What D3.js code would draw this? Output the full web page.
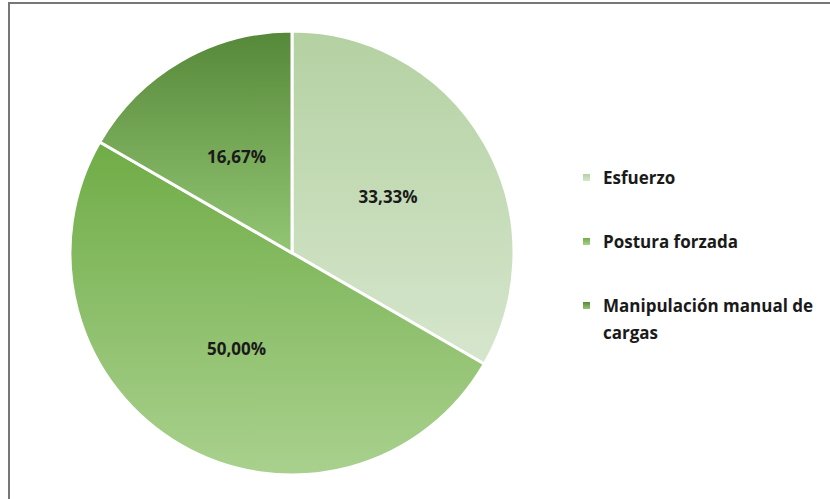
<!DOCTYPE html>
<html>
<head>
<meta charset="utf-8">
<script src="https://cdn.jsdelivr.net/npm/d3@7.9.0/dist/d3.min.js"></script>
<style>
  body { margin: 0; background: #fff; }
  svg { display: block; }
  text { font-family: "Open Sans", Lato, sans-serif; font-weight: bold; fill: #1a1a1a; }
</style>
</head>
<body>
<div id="chart"></div>
<script>
const categories = ['Esfuerzo', 'Postura forzada', 'Manipulación manual de cargas'];
const values = [33.33, 50.00, 16.67];
const labels = ['33,33%', '50,00%', '16,67%'];
// gradient stops per slice: top colour, bottom colour
const topColors = ['#b4d1a2', '#6fac46', '#568839'];
const bottomColors = ['#d6e6cd', '#a9d18e', '#93c674'];

const width = 830, height = 499;
const cx = 292, cy = 253, radius = 222;

const svg = d3.select('#chart').append('svg')
  .attr('width', width)
  .attr('height', height);

// frame
svg.append('path')
  .attr('d', `M9,${height} V3 H${width}`)
  .attr('fill', 'none')
  .attr('stroke', '#777')
  .attr('stroke-width', 2);

const defs = svg.append('defs');
categories.forEach((c, i) => {
  const g = defs.append('linearGradient')
    .attr('id', 'grad' + i)
    .attr('x1', 0).attr('y1', 0).attr('x2', 0).attr('y2', 1);
  g.append('stop').attr('offset', '0%').attr('stop-color', topColors[i]);
  g.append('stop').attr('offset', '100%').attr('stop-color', bottomColors[i]);
});

const pie = d3.pie().sort(null).value(d => d.value);
const data = categories.map((c, i) => ({ name: c, value: values[i], label: labels[i], i }));
const arcs = pie(data);

const arc = d3.arc().innerRadius(0).outerRadius(radius);
const labelArc = d3.arc().innerRadius(radius * 0.5).outerRadius(radius * 0.5);

const g = svg.append('g').attr('transform', `translate(${cx},${cy})`);

g.selectAll('path.slice')
  .data(arcs)
  .join('path')
  .attr('class', 'slice')
  .attr('d', arc)
  .attr('fill', d => `url(#grad${d.data.i})`)
  .attr('stroke', '#fff')
  .attr('stroke-width', 3)
  .attr('stroke-linejoin', 'round');

g.selectAll('text.lbl')
  .data(arcs)
  .join('text')
  .attr('class', 'lbl')
  .attr('transform', d => `translate(${labelArc.centroid(d)})`)
  .attr('text-anchor', 'middle')
  .attr('dy', '0.35em')
  .style('font-size', '17px')
  .text(d => d.data.label);

// legend
const legendY = d3.scalePoint().domain(categories).range([174, 302]);
const legend = svg.append('g');
const items = legend.selectAll('g')
  .data(data)
  .join('g')
  .attr('transform', d => `translate(583,${legendY(d.name)})`);

items.append('rect')
  .attr('width', 7).attr('height', 7)
  .attr('fill', d => `url(#grad${d.i})`);

items.append('text')
  .attr('x', 20)
  .attr('y', 10)
  .style('font-size', '17px')
  .each(function (d) {
    const t = d3.select(this);
    const parts = d.name === 'Manipulación manual de cargas'
      ? ['Manipulación manual de', 'cargas'] : [d.name];
    parts.forEach((p, k) => {
      t.append('tspan').attr('x', 20).attr('dy', k ? 27 : 0).text(p);
    });
  });
</script>
</body>
</html>
